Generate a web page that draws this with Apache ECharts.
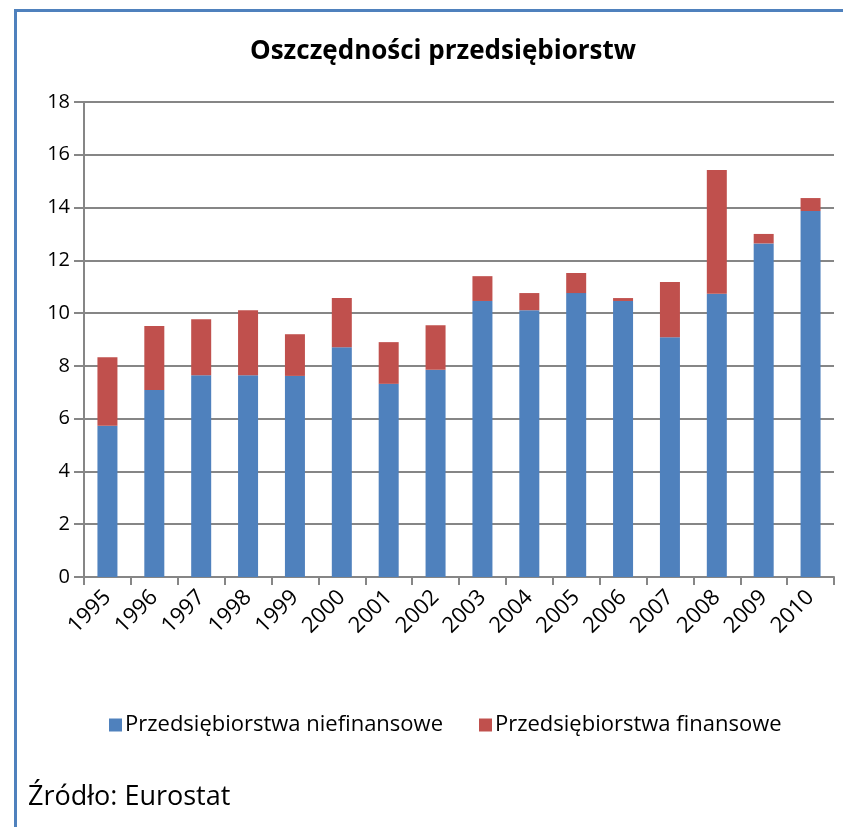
<!DOCTYPE html>
<html>
<head>
<meta charset="utf-8">
<script src="https://cdn.jsdelivr.net/npm/echarts@6/dist/echarts.min.js"></script>
<style>
  html, body { margin: 0; padding: 0; background: #fff; }
  #frame {
    position: absolute; left: 14px; top: 9px; right: 0; bottom: 0;
    border-top: 3px solid #4f81bd; border-left: 3px solid #4f81bd;
    pointer-events: none;
  }
  #chart { width: 843px; height: 827px; }
</style>
</head>
<body>
<div id="chart"></div>
<div id="frame"></div>
<script>
const years = ['1995','1996','1997','1998','1999','2000','2001','2002','2003','2004','2005','2006','2007','2008','2009','2010']
// przedsiebiorstwa niefinansowe
const nonFinancial = [5.73, 7.09, 7.65, 7.65, 7.62, 8.71, 7.32, 7.85, 10.46, 10.11, 10.76, 10.46, 9.09, 10.73, 12.64, 13.87]
// przedsiebiorstwa finansowe
const financial = [2.60, 2.42, 2.12, 2.46, 1.58, 1.86, 1.58, 1.69, 0.94, 0.65, 0.76, 0.11, 2.09, 4.69, 0.36, 0.49]
const yTicks = [0, 2, 4, 6, 8, 10, 12, 14, 16, 18]

const font = '"Open Sans", sans-serif'
const chart = echarts.init(document.getElementById('chart'))

chart.setOption({
  animation: false,
  color: ['#4f81bd', '#c0504d'],
  title: {
    text: 'Oszczędności przedsiębiorstw',
    left: 438,
    textAlign: 'center',
    top: 34,
    textStyle: { fontFamily: font, fontSize: 26, fontWeight: 'bold', color: '#000' }
  },
  grid: { left: 84, right: 9, top: 102, bottom: 250 },
  legend: {
    bottom: 86,
    left: 104,
    itemWidth: 13,
    itemHeight: 13,
    itemGap: 36,
    icon: 'rect',
    textStyle: { fontFamily: font, fontSize: 22, color: '#000', padding: [0, 0, 0, -2] },
    data: ['Przedsiębiorstwa niefinansowe', 'Przedsiębiorstwa finansowe']
  },
  graphic: [{
    type: 'text',
    left: 28,
    top: 784,
    style: { text: 'Źródło: Eurostat', font: '27px ' + font, fill: '#000' }
  }],
  xAxis: {
    type: 'category',
    data: years,
    axisLine: { lineStyle: { color: '#868686', width: 2 } },
    axisTick: { show: true, length: 8, lineStyle: { color: '#868686', width: 2 } },
    axisLabel: { rotate: 45, fontFamily: font, fontSize: 22, color: '#000', margin: 17 }
  },
  yAxis: {
    type: 'value',
    min: yTicks[0],
    max: yTicks[yTicks.length - 1],
    interval: 2,
    axisLine: { show: true, lineStyle: { color: '#868686', width: 2 } },
    axisTick: { show: true, length: 10, lineStyle: { color: '#868686', width: 2 } },
    splitLine: { lineStyle: { color: '#868686', width: 2 } },
    axisLabel: { fontFamily: font, fontSize: 20, color: '#000', margin: 14 }
  },
  series: [
    {
      name: 'Przedsiębiorstwa niefinansowe',
      type: 'bar',
      stack: 'total',
      barWidth: 20,
      data: nonFinancial
    },
    {
      name: 'Przedsiębiorstwa finansowe',
      type: 'bar',
      stack: 'total',
      barWidth: 20,
      data: financial
    }
  ]
})
</script>
</body>
</html>
